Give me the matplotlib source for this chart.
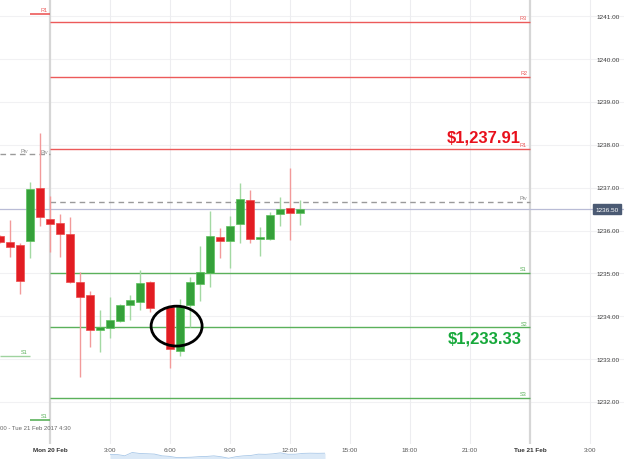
import matplotlib.pyplot as plt
from matplotlib.patches import Ellipse
from matplotlib.transforms import blended_transform_factory

# 30 minute candles, x = hours after Mon 20 Feb 00:00
hours = [-2.5, -2.0, -1.5, -1.0, -0.5, 0.0, 0.5, 1.0, 1.5, 2.0, 2.5, 3.0, 3.5, 4.0,
         4.5, 5.0, 6.0, 6.5, 7.0, 7.5, 8.0, 8.5, 9.0, 9.5, 10.0, 10.5, 11.0, 11.5,
         12.0, 12.5]
opens = [1235.87, 1235.73, 1235.66, 1235.76, 1236.99, 1236.27, 1236.17, 1235.92,
         1234.80, 1234.50, 1233.68, 1233.73, 1233.89, 1234.26, 1234.33, 1234.80,
         1234.22, 1233.19, 1234.26, 1234.75, 1235.01, 1235.85, 1235.76, 1236.15,
         1236.71, 1235.80, 1235.80, 1236.38, 1236.52, 1236.40]
highs = [1235.90, 1236.24, 1235.71, 1237.13, 1238.27, 1236.80, 1236.38, 1236.31,
         1235.03, 1234.59, 1234.15, 1234.45, 1234.29, 1234.50, 1235.08, 1234.82,
         1234.24, 1234.40, 1234.92, 1235.64, 1236.45, 1236.06, 1236.34, 1237.11,
         1236.94, 1236.08, 1236.43, 1236.78, 1237.46, 1236.71]
lows = [1235.70, 1235.38, 1234.52, 1235.36, 1236.10, 1235.50, 1235.38, 1234.78,
        1232.58, 1233.28, 1233.17, 1233.49, 1233.87, 1233.91, 1234.15, 1234.10,
        1232.79, 1233.07, 1233.75, 1234.36, 1234.68, 1235.36, 1235.13, 1235.71,
        1235.71, 1235.41, 1235.79, 1236.10, 1235.78, 1236.13]
closes = [1235.73, 1235.62, 1234.82, 1236.97, 1236.31, 1236.15, 1235.92, 1234.80,
          1234.45, 1233.68, 1233.75, 1233.91, 1234.26, 1234.38, 1234.78, 1234.19,
          1233.24, 1234.24, 1234.80, 1235.03, 1235.87, 1235.76, 1236.10, 1236.73,
          1235.80, 1235.85, 1236.36, 1236.50, 1236.41, 1236.50]

# pivot levels for Mon 20 Feb
pivot_names = ['R3', 'R2', 'R1', 'S1', 'S2', 'S3']
pivot_values = [1240.86, 1239.58, 1237.91, 1235.02, 1233.74, 1232.09]
pivot_piv = 1236.66
# previous session levels
prev_r1 = 1241.05
prev_piv = 1237.78
prev_s1 = [1233.08, 1231.58]

last_price = 1236.50
price_ticks = [1232, 1233, 1234, 1235, 1236, 1237, 1238, 1239, 1240, 1241]
time_ticks = [0, 3, 6, 9, 12, 15, 18, 21, 24, 27]
time_labels = ['Mon 20 Feb', '3:00', '6:00', '9:00', '12:00', '15:00', '18:00',
               '21:00', 'Tue 21 Feb', '3:00']

RED = '#e21d23'
GREEN = '#35a13a'
RED_W = '#f29a9a'
GREEN_W = '#a3d9a3'
R_LINE = '#ec5a5a'
S_LINE = '#5bb15b'

plt.rcParams['font.family'] = ['Liberation Sans', 'DejaVu Sans']

fig = plt.figure(figsize=(6.24, 4.6), dpi=100)
ax = fig.add_axes([0, 15 / 460, 1, 445 / 460])
ax.set_xlim(-2.5, 28.7)
ax.set_ylim(1231.02, 1241.40)
for s in ax.spines.values():
    s.set_visible(False)
ax.set_yticks([])

# grid
for p in price_ticks:
    ax.axhline(p, color='#f1f1f3', lw=0.8, zorder=0)
for t in time_ticks:
    if t in (0, 24):
        ax.axvline(t, color='#d6d6d6', lw=1.6, zorder=0)
    else:
        ax.axvline(t, color='#ededf0', lw=0.8, zorder=0)

# current price line
ax.axhline(last_price, color='#b9bcd6', lw=0.9, zorder=1)

# pivot lines
for name, v in zip(pivot_names, pivot_values):
    c = R_LINE if name.startswith('R') else S_LINE
    ax.hlines(v, 0, 24, color=c, lw=1.0, zorder=2)
    ax.text(23.85, v + 0.04, name, color=c, fontsize=4, ha='right', va='bottom')
ax.hlines(pivot_piv, 0, 24, color='#9a9a9a', lw=1.0, ls=(0, (4, 3)), zorder=2)
ax.text(23.85, pivot_piv + 0.04, 'Piv', color='#888888', fontsize=4, ha='right', va='bottom')

# previous session
ax.hlines(prev_r1, -1.0, 0, color=R_LINE, lw=1.2)
ax.text(-0.1, prev_r1 + 0.05, 'R1', color=R_LINE, fontsize=4, ha='right', va='bottom')
ax.hlines(prev_piv, -2.5, 0, color='#9a9a9a', lw=1.0, ls=(0, (4, 3)))
ax.text(-1.1, prev_piv + 0.03, 'Piv', color='#888888', fontsize=4, ha='right', va='bottom')
ax.text(-0.1, prev_piv + 0.01, 'Piv', color='#888888', fontsize=4, ha='right', va='bottom')
ax.hlines(prev_s1[0], -2.5, -1.0, color='#9fd39f', lw=1.0)
ax.text(-1.1, prev_s1[0] + 0.04, 'S1', color=S_LINE, fontsize=4, ha='right', va='bottom')
ax.hlines(prev_s1[1], -1.0, 0, color=S_LINE, lw=1.2)
ax.text(-0.1, prev_s1[1] + 0.04, 'S1', color=S_LINE, fontsize=4, ha='right', va='bottom')

# candles
for t, o, h, l, c in zip(hours, opens, highs, lows, closes):
    up = c >= o
    ax.vlines(t, l, h, color=GREEN_W if up else RED_W, lw=1.0, zorder=3)
    bottom = min(o, c)
    height = max(abs(c - o), 0.04)
    ax.bar(t, height, bottom=bottom, width=0.36, color=GREEN if up else RED,
           edgecolor='#5cc25c' if up else '#ee4a4a', lw=0.5, zorder=4)

# ellipse around the reversal
ax.add_patch(Ellipse((6.33, 1233.77), 2.55, 0.93, fill=False, color='black', lw=2.0, zorder=6))

# big labels
ax.text(21.7, 1238.19, '$1,237.91', color='#e8101c', fontsize=12, fontweight='bold',
        ha='center', va='center')
ax.text(21.75, 1233.49, '$1,233.33', color='#16a83a', fontsize=12, fontweight='bold',
        ha='center', va='center')

# price scale labels
for p in price_ticks:
    ax.text(27.9, p, '%.2f' % p, fontsize=4.6, color='#3c3c3c', ha='center', va='center', zorder=5)
ax.text(27.85, last_price, '%.2f' % last_price, fontsize=4.6, color='white', ha='center',
        va='center', zorder=7,
        bbox=dict(boxstyle='square,pad=0.35', fc='#4b5a73', ec='#4b5a73'))

# time axis
ax.set_xticks(time_ticks)
ax.set_xticklabels(time_labels, fontsize=4.6, color='#555555')
for lab in ax.get_xticklabels():
    if 'Feb' in lab.get_text():
        lab.set_fontweight('bold')
        lab.set_color('#333333')
ax.tick_params(axis='x', length=0, pad=2)

trans = blended_transform_factory(ax.transAxes, ax.transData)
ax.text(0.0, 1231.4, '00 - Tue 21 Feb 2017 4:30', fontsize=4.3, color='#666666',
        ha='left', va='center', transform=trans)

# small navigator strip at the bottom
nav = fig.add_axes([110 / 624, 0, 215 / 624, 7 / 460])
nav.fill_between(range(len(closes)), closes, min(closes) - 0.5, color='#dbe9f7', lw=0)
nav.plot(range(len(closes)), closes, color='#a9c8e8', lw=0.6)
nav.set_xlim(0, len(closes) - 1)
nav.set_ylim(min(closes) - 0.5, max(closes) + 0.3)
nav.axis('off')

plt.savefig('out.png', dpi=100)
